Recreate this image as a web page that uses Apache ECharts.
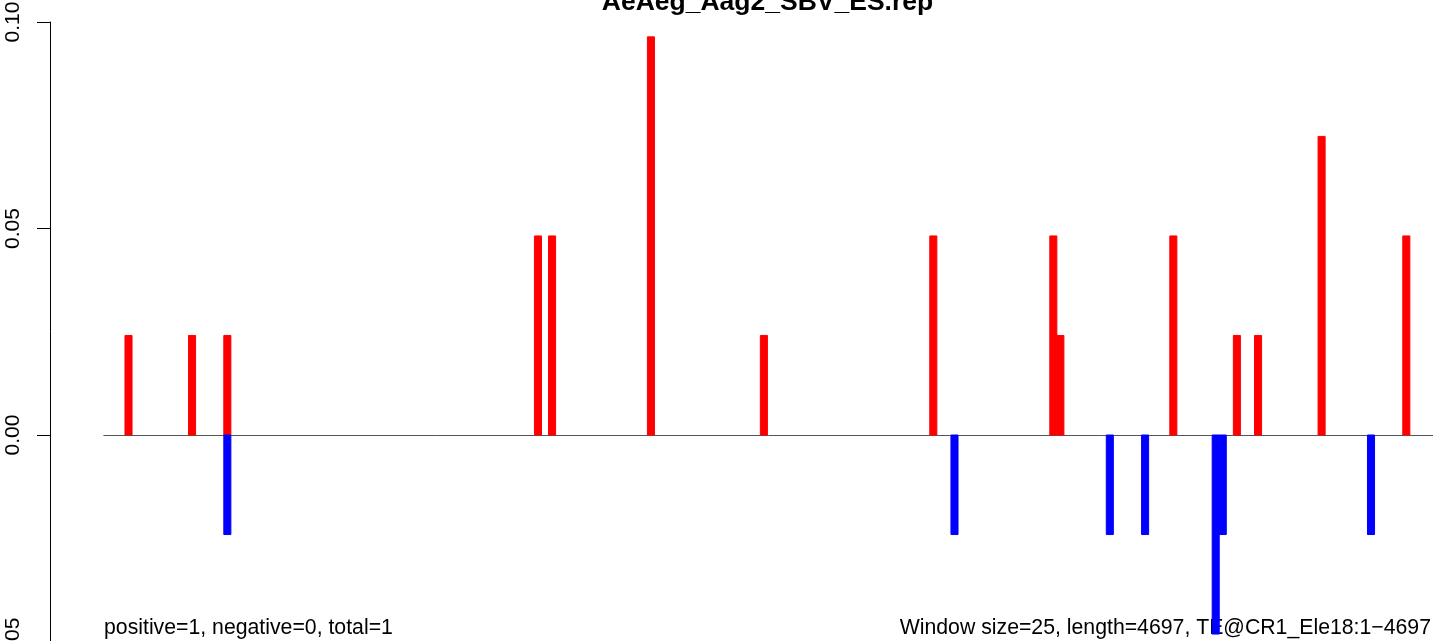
<!DOCTYPE html>
<html>
<head>
<meta charset="utf-8">
<script src="https://cdn.jsdelivr.net/npm/echarts@6/dist/echarts.min.js"></script>
<style>
  html, body { margin: 0; padding: 0; background: #fff; }
  #chart { width: 1433px; height: 641px; }
</style>
</head>
<body>
<div id="chart"></div>
<script>
// ---- data ----
const titleText = 'AeAeg_Aag2_SBV_ES.rep';
const leftNote = 'positive=1, negative=0, total=1';
const rightNote = 'Window size=25, length=4697, TE@CR1_Ele18:1\u22124697';
const windowSize = 25;
const seqLength = 4697;
// window start positions (bp) and values, positive strand
const posStarts = [75, 300, 425, 1525, 1575, 1925, 2325, 2925, 3350, 3375, 3775, 4000, 4075, 4300, 4600];
const posValues = [0.0241, 0.0241, 0.0241, 0.0482, 0.0482, 0.0964, 0.0241, 0.0482, 0.0482, 0.0241, 0.0482, 0.0241, 0.0241, 0.0723, 0.0482];
// negative strand
const negStarts = [425, 3000, 3550, 3675, 3925, 3950, 4475];
const negValues = [-0.0241, -0.0241, -0.0241, -0.0241, -0.0482, -0.0241, -0.0241];
const yTicks = [-0.05, 0.00, 0.05, 0.10];

const FONT = '"Liberation Sans", Arial, Helvetica, sans-serif';

function renderWindow(color) {
  return function (params, api) {
    const s = api.value(0), v = api.value(1);
    const p0 = api.coord([s, 0]);
    const p1 = api.coord([s + windowSize, v]);
    return {
      type: 'rect',
      shape: {
        x: p0[0],
        y: Math.min(p0[1], p1[1]),
        width: p1[0] - p0[0],
        height: Math.abs(p1[1] - p0[1])
      },
      style: { fill: color, stroke: color, lineWidth: 1 }
    };
  };
}

const chart = echarts.init(document.getElementById('chart'), null, { renderer: 'canvas' });
chart.setOption({
  animation: false,
  backgroundColor: '#ffffff',
  grid: { left: 103.8, top: 22, width: 1329.2, height: 619.5, containLabel: false, outerBoundsMode: 'none' },
  xAxis: {
    type: 'value',
    min: 0,
    max: 4707,
    axisLine: { show: true, onZero: true, lineStyle: { color: '#555555', width: 1 } },
    axisTick: { show: false },
    axisLabel: { show: false },
    splitLine: { show: false }
  },
  yAxis: {
    type: 'value',
    min: yTicks[0],
    max: yTicks[yTicks.length - 1],
    interval: 0.05,
    offset: 53.8,
    axisLine: { show: true, onZero: false, lineStyle: { color: '#000000', width: 1 } },
    axisTick: { show: true, length: 13, lineStyle: { color: '#000000', width: 1 } },
    axisLabel: {
      show: true,
      rotate: 90,
      margin: 26.5,
      fontSize: 21,
      fontFamily: FONT,
      color: '#000000',
      showMinLabel: true,
      showMaxLabel: true,
      formatter: function (v) { return (Math.abs(v) < 1e-9 ? 0 : v).toFixed(2); }
    },
    splitLine: { show: false }
  },
  series: [
    {
      type: 'custom',
      renderItem: renderWindow('#ff0000'),
      data: posStarts.map((s, i) => [s, posValues[i]]),
      encode: { x: 0, y: 1 },
      clip: false
    },
    {
      type: 'custom',
      renderItem: renderWindow('#0000ff'),
      data: negStarts.map((s, i) => [s, negValues[i]]),
      encode: { x: 0, y: 1 },
      clip: false
    }
  ],
  graphic: [
    {
      type: 'text',
      x: 767.5,
      y: 2.5,
      style: {
        text: titleText,
        font: 'bold 26.5px ' + FONT,
        fill: '#000000',
        align: 'center',
        verticalAlign: 'middle'
      }
    },
    {
      type: 'text',
      x: 104,
      y: 628,
      style: {
        text: leftNote,
        font: '21.25px ' + FONT,
        fill: '#000000',
        align: 'left',
        verticalAlign: 'middle'
      }
    },
    {
      type: 'text',
      x: 1431,
      y: 628,
      style: {
        text: rightNote,
        font: '21.25px ' + FONT,
        fill: '#000000',
        align: 'right',
        verticalAlign: 'middle'
      }
    }
  ]
});
</script>
</body>
</html>
